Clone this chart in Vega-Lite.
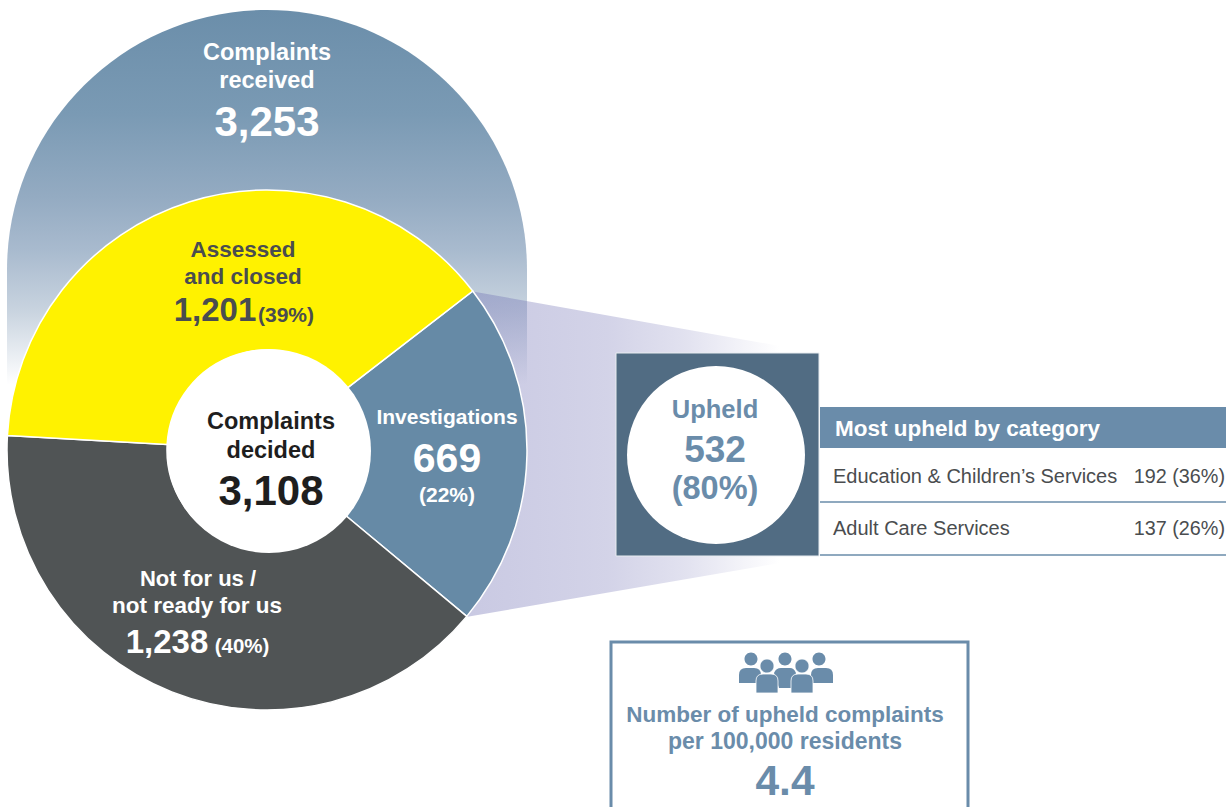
{"$schema":"https://vega.github.io/schema/vega-lite/v6.json","width":1229,"height":807,"padding":0,"autosize":"none","background":"white","config":{"view":{"stroke":null},"axis":{"disable":true},"text":{"font":"Liberation Sans","fontWeight":"bold","dy":1}},"layer":[
{"data":{"values":[{"shape":"arch"}]},"mark":{"type":"rect","cornerRadiusTopLeft":260,"cornerRadiusTopRight":260,"fill":{"gradient":"linear","x1":0,"y1":0,"x2":0,"y2":1,"stops":[{"offset":0,"color":"#6b8eaa"},{"offset":0.2,"color":"#7a9ab4"},{"offset":0.36,"color":"#94abc2"},{"offset":0.46,"color":"#a8bace"},{"offset":0.577,"color":"#c8d3df"},{"offset":0.72,"color":"#ffffff"},{"offset":1,"color":"#ffffff"}]}},"encoding":{"x":{"datum":7,"type":"quantitative","scale":{"domain":[0,1229],"range":[0,1229],"nice":false,"zero":false}},"x2":{"datum":527},"y":{"datum":10,"type":"quantitative","scale":{"domain":[807,0],"range":[807,0],"nice":false,"zero":false}},"y2":{"datum":530}}},
{"data":{"values":[{"shape":"connector"}]},"mark":{"type":"point","filled":true,"opacity":1,"size":160000,"shape":"M-0.775,-0.815 L0.775,-0.54 L0.775,0.545 L-0.795,0.815 Z","fill":{"gradient":"linear","x1":0,"y1":0,"x2":1,"y2":0,"stops":[{"offset":0,"color":"rgba(109,109,178,0.37)"},{"offset":0.45,"color":"rgba(109,109,178,0.3)"},{"offset":0.7,"color":"rgba(109,109,178,0.2)"},{"offset":1,"color":"rgba(109,109,178,0)"}]}},"encoding":{"x":{"datum":625,"type":"quantitative"},"y":{"datum":454,"type":"quantitative"}}},
{"data":{"values":[{"category":"Investigations","value":669,"rank":1},{"category":"Not for us / not ready for us","value":1238,"rank":2},{"category":"Assessed and closed","value":1201,"rank":3}]},"mark":{"type":"arc","radius":260,"radius2":100,"stroke":"white","strokeWidth":1.5},"encoding":{"x":{"datum":267,"type":"quantitative"},"y":{"datum":450,"type":"quantitative"},"theta":{"field":"value","type":"quantitative","stack":true,"scale":{"range":[0.9128,7.196]}},"order":{"field":"rank"},"color":{"field":"category","type":"nominal","legend":null,"scale":{"domain":["Investigations","Not for us / not ready for us","Assessed and closed"],"range":["#668aa6","#505455","#fff200"]}}}},
{"data":{"values":[{"shape":"hole"}]},"mark":{"type":"point","filled":true,"opacity":1,"fill":"white","shape":"circle","size":41616},"encoding":{"x":{"datum":269,"type":"quantitative"},"y":{"datum":451,"type":"quantitative"}}},
{"data":{"values":[{"shape":"box"}]},"mark":{"type":"rect","fill":"#516c83","stroke":"#e8ecf0","strokeWidth":1},"encoding":{"x":{"datum":616,"type":"quantitative"},"x2":{"datum":819},"y":{"datum":353,"type":"quantitative"},"y2":{"datum":556}}},
{"data":{"values":[{"shape":"disc"}]},"mark":{"type":"point","filled":true,"opacity":1,"fill":"white","shape":"circle","size":31684},"encoding":{"x":{"datum":716,"type":"quantitative"},"y":{"datum":455,"type":"quantitative"}}},
{"data":{"values":[{"shape":"header"}]},"mark":{"type":"rect","fill":"#6a8caa"},"encoding":{"x":{"datum":820,"type":"quantitative"},"x2":{"datum":1226},"y":{"datum":407,"type":"quantitative"},"y2":{"datum":448}}},
{"data":{"values":[{"shape":"rule1"}]},"mark":{"type":"rule","stroke":"#6a8caa","strokeWidth":1.5},"encoding":{"x":{"datum":820,"type":"quantitative"},"x2":{"datum":1226},"y":{"datum":502,"type":"quantitative"}}},
{"data":{"values":[{"shape":"rule2"}]},"mark":{"type":"rule","stroke":"#6a8caa","strokeWidth":1.5},"encoding":{"x":{"datum":820,"type":"quantitative"},"x2":{"datum":1226},"y":{"datum":555,"type":"quantitative"}}},
{"data":{"values":[{"shape":"panel"}]},"mark":{"type":"rect","fill":"white","stroke":"#6a8caa","strokeWidth":3},"encoding":{"x":{"datum":611,"type":"quantitative"},"x2":{"datum":968},"y":{"datum":642,"type":"quantitative"},"y2":{"datum":840}}},
{"data":{"values":[{"shape":"people back"}]},"mark":{"type":"point","filled":true,"opacity":1,"fill":"#6a8caa","size":10000,"shape":"M-0.81,-0.26 A0.13,0.13 0 1,1 -0.55,-0.26 A0.13,0.13 0 1,1 -0.81,-0.26 Z M-0.13,-0.26 A0.13,0.13 0 1,1 0.13,-0.26 A0.13,0.13 0 1,1 -0.13,-0.26 Z M0.55,-0.26 A0.13,0.13 0 1,1 0.81,-0.26 A0.13,0.13 0 1,1 0.55,-0.26 Z M-0.92,0.22 L-0.92,0.06 Q-0.92,-0.08 -0.78,-0.08 L-0.62,-0.08 Q-0.48,-0.08 -0.48,0.06 L-0.48,0.22 Z M-0.22,0.02 Q-0.18,-0.08 -0.08,-0.08 L0.1,-0.08 Q0.18,-0.08 0.22,0.02 L0.12,0.32 L-0.12,0.32 Z M0.52,0.22 L0.52,0.06 Q0.52,-0.08 0.66,-0.08 L0.82,-0.08 Q0.96,-0.08 0.96,0.06 L0.96,0.22 Z"},"encoding":{"x":{"datum":785,"type":"quantitative"},"y":{"datum":672,"type":"quantitative"}}},
{"data":{"values":[{"shape":"people front"}]},"mark":{"type":"point","filled":true,"opacity":1,"fill":"#6a8caa","stroke":"white","strokeWidth":0.8,"size":10000,"shape":"M-0.5,-0.12 A0.14,0.14 0 1,1 -0.22,-0.12 A0.14,0.14 0 1,1 -0.5,-0.12 Z M0.2,-0.12 A0.14,0.14 0 1,1 0.48,-0.12 A0.14,0.14 0 1,1 0.2,-0.12 Z M-0.58,0.42 L-0.58,0.18 Q-0.58,0.04 -0.44,0.04 L-0.28,0.04 Q-0.14,0.04 -0.14,0.18 L-0.14,0.42 Z M0.12,0.42 L0.12,0.18 Q0.12,0.04 0.26,0.04 L0.42,0.04 Q0.56,0.04 0.56,0.18 L0.56,0.42 Z"},"encoding":{"x":{"datum":785,"type":"quantitative"},"y":{"datum":672,"type":"quantitative"}}},
{"data":{"values":[{"label":"Complaints"}]},"mark":{"type":"text","fontSize":23.5,"fill":"white"},"encoding":{"text":{"field":"label"},"x":{"datum":267,"type":"quantitative"},"y":{"datum":52,"type":"quantitative"}}},
{"data":{"values":[{"label":"received"}]},"mark":{"type":"text","fontSize":23.5,"fill":"white"},"encoding":{"text":{"field":"label"},"x":{"datum":267,"type":"quantitative"},"y":{"datum":80,"type":"quantitative"}}},
{"data":{"values":[{"label":"3,253"}]},"mark":{"type":"text","fontSize":42,"fill":"white"},"encoding":{"text":{"field":"label"},"x":{"datum":267,"type":"quantitative"},"y":{"datum":122,"type":"quantitative"}}},
{"data":{"values":[{"label":"Assessed"}]},"mark":{"type":"text","fontSize":22.5,"fill":"#4a4d4f"},"encoding":{"text":{"field":"label"},"x":{"datum":243,"type":"quantitative"},"y":{"datum":249,"type":"quantitative"}}},
{"data":{"values":[{"label":"and closed"}]},"mark":{"type":"text","fontSize":22.5,"fill":"#4a4d4f"},"encoding":{"text":{"field":"label"},"x":{"datum":243,"type":"quantitative"},"y":{"datum":276,"type":"quantitative"}}},
{"data":{"values":[{"label":"1,201"}]},"mark":{"type":"text","fontSize":33,"fill":"#4a4d4f"},"encoding":{"text":{"field":"label"},"x":{"datum":215,"type":"quantitative"},"y":{"datum":310,"type":"quantitative"}}},
{"data":{"values":[{"label":"(39%)"}]},"mark":{"type":"text","fontSize":21,"fill":"#4a4d4f"},"encoding":{"text":{"field":"label"},"x":{"datum":286,"type":"quantitative"},"y":{"datum":315,"type":"quantitative"}}},
{"data":{"values":[{"label":"Complaints"}]},"mark":{"type":"text","fontSize":23.5,"fill":"#1e1e1e"},"encoding":{"text":{"field":"label"},"x":{"datum":271,"type":"quantitative"},"y":{"datum":421,"type":"quantitative"}}},
{"data":{"values":[{"label":"decided"}]},"mark":{"type":"text","fontSize":23.5,"fill":"#1e1e1e"},"encoding":{"text":{"field":"label"},"x":{"datum":271,"type":"quantitative"},"y":{"datum":450,"type":"quantitative"}}},
{"data":{"values":[{"label":"3,108"}]},"mark":{"type":"text","fontSize":42,"fill":"#1e1e1e"},"encoding":{"text":{"field":"label"},"x":{"datum":271,"type":"quantitative"},"y":{"datum":491,"type":"quantitative"}}},
{"data":{"values":[{"label":"Investigations"}]},"mark":{"type":"text","fontSize":21,"fill":"white"},"encoding":{"text":{"field":"label"},"x":{"datum":447,"type":"quantitative"},"y":{"datum":417,"type":"quantitative"}}},
{"data":{"values":[{"label":"669"}]},"mark":{"type":"text","fontSize":41,"fill":"white"},"encoding":{"text":{"field":"label"},"x":{"datum":447,"type":"quantitative"},"y":{"datum":459,"type":"quantitative"}}},
{"data":{"values":[{"label":"(22%)"}]},"mark":{"type":"text","fontSize":21,"fill":"white"},"encoding":{"text":{"field":"label"},"x":{"datum":447,"type":"quantitative"},"y":{"datum":495,"type":"quantitative"}}},
{"data":{"values":[{"label":"Not for us /"}]},"mark":{"type":"text","fontSize":22,"fill":"white"},"encoding":{"text":{"field":"label"},"x":{"datum":198,"type":"quantitative"},"y":{"datum":578,"type":"quantitative"}}},
{"data":{"values":[{"label":"not ready for us"}]},"mark":{"type":"text","fontSize":22.5,"fill":"white"},"encoding":{"text":{"field":"label"},"x":{"datum":197,"type":"quantitative"},"y":{"datum":605,"type":"quantitative"}}},
{"data":{"values":[{"label":"1,238"}]},"mark":{"type":"text","fontSize":33,"fill":"white"},"encoding":{"text":{"field":"label"},"x":{"datum":167,"type":"quantitative"},"y":{"datum":642,"type":"quantitative"}}},
{"data":{"values":[{"label":"(40%)"}]},"mark":{"type":"text","fontSize":20.5,"fill":"white"},"encoding":{"text":{"field":"label"},"x":{"datum":242,"type":"quantitative"},"y":{"datum":646,"type":"quantitative"}}},
{"data":{"values":[{"label":"Upheld"}]},"mark":{"type":"text","fontSize":25.5,"fill":"#6a8caa"},"encoding":{"text":{"field":"label"},"x":{"datum":715,"type":"quantitative"},"y":{"datum":409,"type":"quantitative"}}},
{"data":{"values":[{"label":"532"}]},"mark":{"type":"text","fontSize":37,"fill":"#6a8caa"},"encoding":{"text":{"field":"label"},"x":{"datum":715,"type":"quantitative"},"y":{"datum":450,"type":"quantitative"}}},
{"data":{"values":[{"label":"(80%)"}]},"mark":{"type":"text","fontSize":32.5,"fill":"#6a8caa"},"encoding":{"text":{"field":"label"},"x":{"datum":715,"type":"quantitative"},"y":{"datum":488,"type":"quantitative"}}},
{"data":{"values":[{"label":"Most upheld by category"}]},"mark":{"type":"text","fontSize":22.5,"fill":"white","align":"left"},"encoding":{"text":{"field":"label"},"x":{"datum":835,"type":"quantitative"},"y":{"datum":428,"type":"quantitative"}}},
{"data":{"values":[{"label":"Education & Children’s Services"}]},"mark":{"type":"text","fontSize":20,"fontWeight":"normal","fill":"#4a4d4f","align":"left"},"encoding":{"text":{"field":"label"},"x":{"datum":833,"type":"quantitative"},"y":{"datum":476,"type":"quantitative"}}},
{"data":{"values":[{"label":"192 (36%)"}]},"mark":{"type":"text","fontSize":19.8,"fontWeight":"normal","fill":"#4a4d4f","align":"right"},"encoding":{"text":{"field":"label"},"x":{"datum":1225,"type":"quantitative"},"y":{"datum":476,"type":"quantitative"}}},
{"data":{"values":[{"label":"Adult Care Services"}]},"mark":{"type":"text","fontSize":20,"fontWeight":"normal","fill":"#4a4d4f","align":"left"},"encoding":{"text":{"field":"label"},"x":{"datum":833,"type":"quantitative"},"y":{"datum":528,"type":"quantitative"}}},
{"data":{"values":[{"label":"137 (26%)"}]},"mark":{"type":"text","fontSize":19.8,"fontWeight":"normal","fill":"#4a4d4f","align":"right"},"encoding":{"text":{"field":"label"},"x":{"datum":1225,"type":"quantitative"},"y":{"datum":528,"type":"quantitative"}}},
{"data":{"values":[{"label":"Number of upheld complaints"}]},"mark":{"type":"text","fontSize":22.5,"fill":"#6a8caa"},"encoding":{"text":{"field":"label"},"x":{"datum":785,"type":"quantitative"},"y":{"datum":714,"type":"quantitative"}}},
{"data":{"values":[{"label":"per 100,000 residents"}]},"mark":{"type":"text","fontSize":23,"fill":"#6a8caa"},"encoding":{"text":{"field":"label"},"x":{"datum":785,"type":"quantitative"},"y":{"datum":741,"type":"quantitative"}}},
{"data":{"values":[{"label":"4.4"}]},"mark":{"type":"text","fontSize":42.5,"fill":"#6a8caa"},"encoding":{"text":{"field":"label"},"x":{"datum":785,"type":"quantitative"},"y":{"datum":781,"type":"quantitative"}}}
]}
